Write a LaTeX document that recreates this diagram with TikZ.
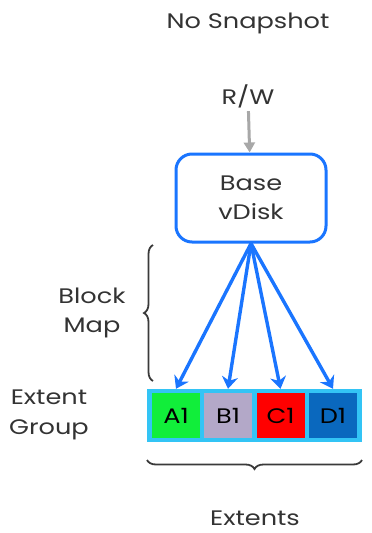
\documentclass[tikz,border=0pt]{standalone}
\usepackage{fontspec}
\setmainfont{Poppins}[FakeStretch=1.22]
\usetikzlibrary{arrows.meta,decorations.pathreplacing}

\definecolor{diskblue}{HTML}{1A75FF}
\definecolor{framecyan}{HTML}{33C4F5}
\definecolor{cellgreen}{HTML}{11EE3A}
\definecolor{celllilac}{HTML}{B3A8C8}
\definecolor{cellred}{HTML}{FF0000}
\definecolor{cellblue}{HTML}{0A68BE}
\definecolor{rwgray}{HTML}{A8A8A8}
\definecolor{bracegray}{HTML}{3A3A3A}
\definecolor{textgray}{HTML}{333333}

\begin{document}
\begin{tikzpicture}[x=1pt, y=-1pt,
  label txt/.style={text=textgray, font=\fontsize{21}{29.5}\selectfont, align=center},
  cell/.style={minimum width=48pt, minimum height=45pt, inner sep=0pt, label txt, text=black},
  map arrow/.style={draw=diskblue, line width=3.4pt, -{Stealth[length=12pt, width=16pt]}},
  curly/.style={draw=bracegray, line width=1.8pt, decorate, decoration={brace, amplitude=9pt}}
]

\def \xdisk       {251}
\def \xgroup      {254.5}
\def \ygroup      {415.5}
\def \xleftbrace  {153}
\def \ybracetop   {245}
\def \ybracebot   {381}
\def \ybottombrace{460}

\useasboundingbox (0,0) rectangle (372,533);

% title and input
\node [label txt] (title) at (248, 23)  {No Snapshot};
\node [label txt] (rw)    at (248, 96)  {R/W};
% base disk
\node [label txt, draw=diskblue, line width=3pt, rounded corners=16pt,
       minimum width=150pt, minimum height=88pt] (vdisk) at (\xdisk, 198) {Base\\vDisk};
\draw [rwgray, line width=3pt, -{Triangle[length=10pt, width=11pt]}] (rw) -- (vdisk);
% extent group
\node [fill=framecyan, minimum width=215pt, minimum height=53pt, inner sep=0pt] (group) at (\xgroup, \ygroup) {};
\node [cell, fill=cellgreen] (A1) at (176,   \ygroup) {A1};
\node [cell, fill=celllilac] (B1) at (228,   \ygroup) {B1};
\node [cell, fill=cellred]   (C1) at (280.5, \ygroup) {C1};
\node [cell, fill=cellblue]  (D1) at (333,   \ygroup) {D1};
% block map arrows
\foreach \c in {A1, B1, C1, D1}
  \draw [map arrow] (vdisk.south) -- (\c |- group.north);
% braces
\coordinate (mapbot) at (\xleftbrace, \ybracebot);
\coordinate (maptop) at (\xleftbrace, \ybracetop);
\draw [curly] (mapbot) -- (maptop);
\coordinate (extright) at (362, \ybottombrace);
\coordinate (extleft)  at (147, \ybottombrace);
\draw [curly] (extright) -- (extleft);
% side and bottom labels
\node [label txt] (blockmap) at (92, 313)  {Block\\Map};
\node [label txt] (extgroup) at (49, 415)  {Extent\\Group};
\node [label txt] (extents)  at (255, 518) {Extents};

\end{tikzpicture}
\end{document}
